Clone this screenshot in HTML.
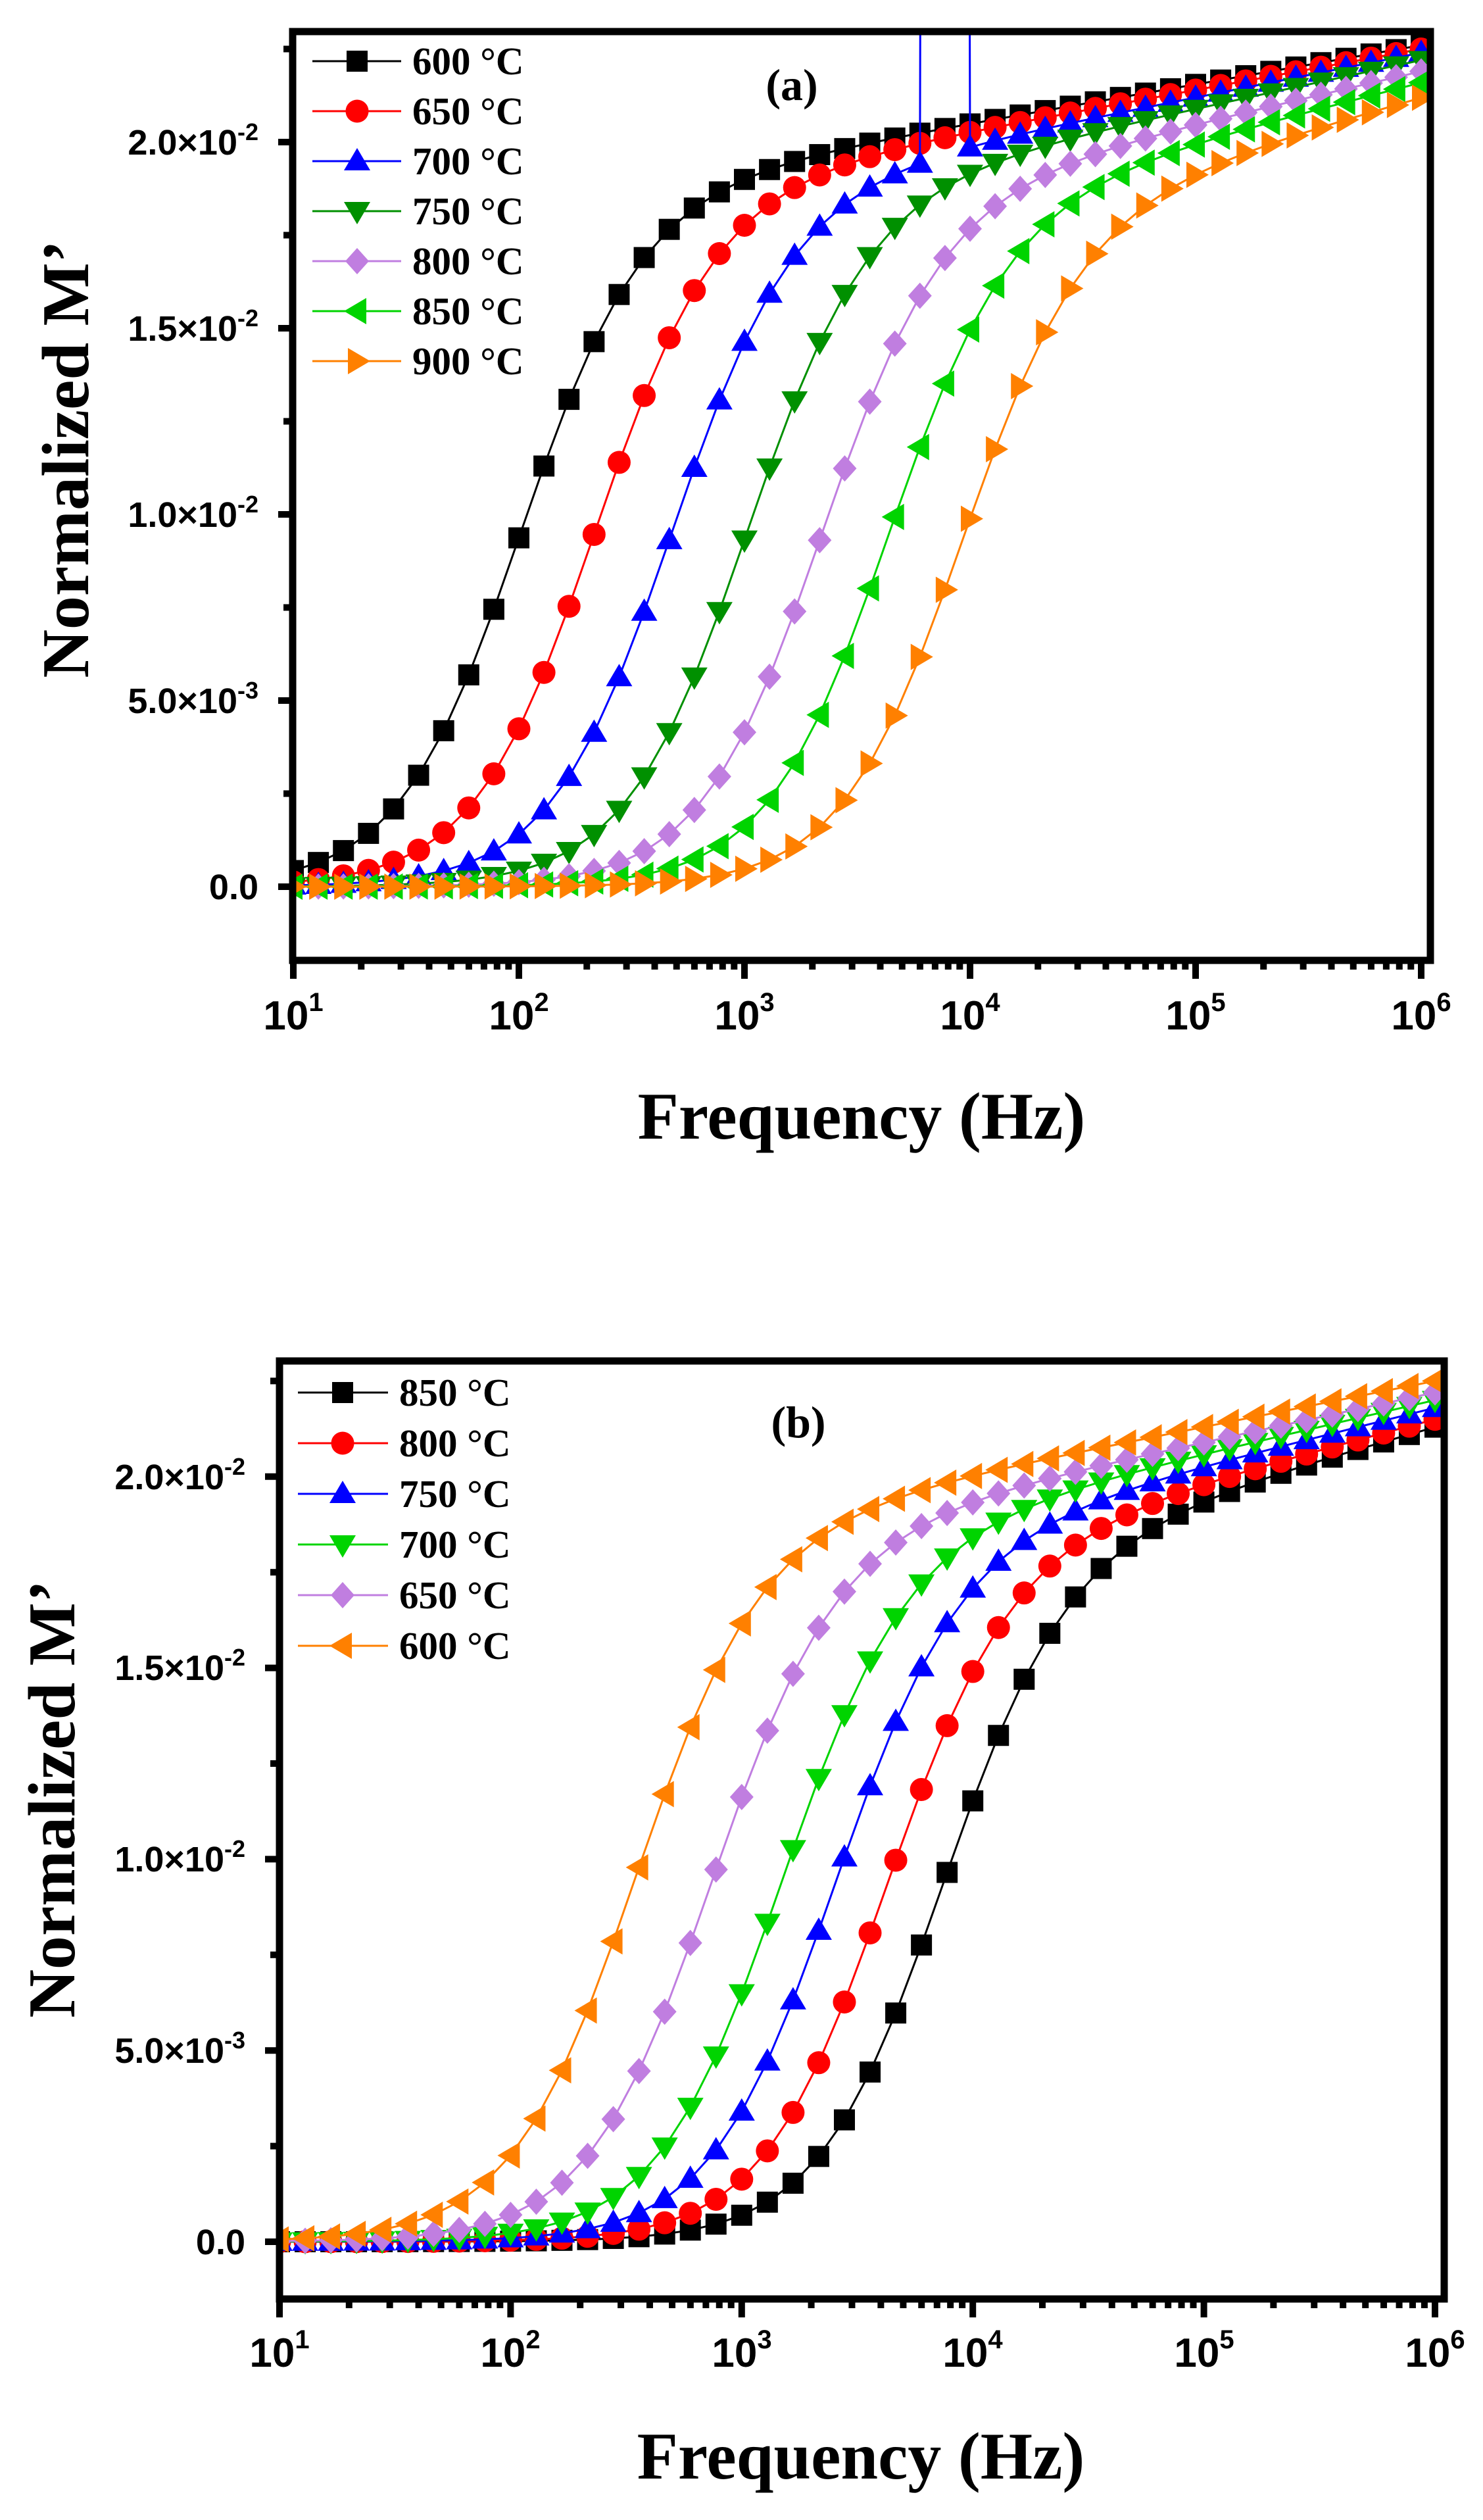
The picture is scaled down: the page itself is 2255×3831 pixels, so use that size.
<!DOCTYPE html>
<html><head><meta charset="utf-8">
<style>
html,body{margin:0;padding:0;background:#fff;}
svg{display:block;}
.tl{font-family:"Liberation Sans",Arial,sans-serif;font-weight:bold;fill:#000;}
.tm{font-family:"Liberation Serif","Times New Roman",serif;font-weight:bold;fill:#000;}
</style></head>
<body>
<svg id="s" width="2255" height="3831" viewBox="0 0 2255 3831" xmlns="http://www.w3.org/2000/svg">
<defs>
<clipPath id="ca"><rect x="445" y="48" width="1730" height="1412"/></clipPath>
<clipPath id="cb"><rect x="425" y="2069" width="1771" height="1426"/></clipPath>
</defs>
<g id="da" clip-path="url(#ca)"></g>
<g id="db" clip-path="url(#cb)"></g>
<g id="axes"></g>
<g class="tl" font-size="54" text-anchor="end">
<text x="393" y="1367">0.0</text>
<text x="393" y="1084">5.0×10<tspan font-size="36" dy="-22">-3</tspan></text>
<text x="393" y="801">1.0×10<tspan font-size="36" dy="-22">-2</tspan></text>
<text x="393" y="518">1.5×10<tspan font-size="36" dy="-22">-2</tspan></text>
<text x="393" y="235">2.0×10<tspan font-size="36" dy="-22">-2</tspan></text>
</g>
<g class="tl" font-size="62" text-anchor="middle">
<text x="446" y="1565">10<tspan font-size="40" dy="-28">1</tspan></text>
<text x="789" y="1565">10<tspan font-size="40" dy="-28">2</tspan></text>
<text x="1132" y="1565">10<tspan font-size="40" dy="-28">3</tspan></text>
<text x="1475" y="1565">10<tspan font-size="40" dy="-28">4</tspan></text>
<text x="1818" y="1565">10<tspan font-size="40" dy="-28">5</tspan></text>
<text x="2161" y="1565">10<tspan font-size="40" dy="-28">6</tspan></text>
</g>
<text class="tm" font-size="102" x="1310" y="1731" text-anchor="middle">Frequency (Hz)</text>
<text class="tm" font-size="102" text-anchor="middle" transform="translate(134,698) rotate(-90)">Normalized M’</text>
<text class="tm" font-size="68" x="1204" y="152" text-anchor="middle">(a)</text>
<g class="tm" font-size="59">
<text x="627" y="113">600 °C</text>
<text x="627" y="189">650 °C</text>
<text x="627" y="265">700 °C</text>
<text x="627" y="341">750 °C</text>
<text x="627" y="417">800 °C</text>
<text x="627" y="493">850 °C</text>
<text x="627" y="569">900 °C</text>
</g>
<g class="tl" font-size="54" text-anchor="end">
<text x="373" y="3427">0.0</text>
<text x="373" y="3136">5.0×10<tspan font-size="36" dy="-22">-3</tspan></text>
<text x="373" y="2845">1.0×10<tspan font-size="36" dy="-22">-2</tspan></text>
<text x="373" y="2554">1.5×10<tspan font-size="36" dy="-22">-2</tspan></text>
<text x="373" y="2264">2.0×10<tspan font-size="36" dy="-22">-2</tspan></text>
</g>
<g class="tl" font-size="62" text-anchor="middle">
<text x="425" y="3598">10<tspan font-size="40" dy="-28">1</tspan></text>
<text x="776" y="3598">10<tspan font-size="40" dy="-28">2</tspan></text>
<text x="1128" y="3598">10<tspan font-size="40" dy="-28">3</tspan></text>
<text x="1479" y="3598">10<tspan font-size="40" dy="-28">4</tspan></text>
<text x="1831" y="3598">10<tspan font-size="40" dy="-28">5</tspan></text>
<text x="2182" y="3598">10<tspan font-size="40" dy="-28">6</tspan></text>
</g>
<text class="tm" font-size="102" x="1309" y="3768" text-anchor="middle">Frequency (Hz)</text>
<text class="tm" font-size="102" text-anchor="middle" transform="translate(113,2735) rotate(-90)">Normalized M’</text>
<text class="tm" font-size="68" x="1214" y="2185" text-anchor="middle">(b)</text>
<g class="tm" font-size="59">
<text x="607" y="2137">850 °C</text>
<text x="607" y="2214">800 °C</text>
<text x="607" y="2291">750 °C</text>
<text x="607" y="2368">700 °C</text>
<text x="607" y="2445">650 °C</text>
<text x="607" y="2522">600 °C</text>
</g>
<g id="leg"></g>
</svg>
<script>
var NS="http://www.w3.org/2000/svg";
function el(p,t,a){var e=document.createElementNS(NS,t);for(var k in a)e.setAttribute(k,a[k]);p.appendChild(e);return e;}
function marker(g,type,x,y,c){
  var s;
  if(type=='sq'){el(g,'rect',{x:x-16,y:y-16,width:32,height:32,fill:c});return;}
  if(type=='ci'){el(g,'circle',{cx:x,cy:y,r:17.5,fill:c});return;}
  if(type=='tu')s=[[0,-20],[20,14],[-20,14]];
  if(type=='td')s=[[0,20],[20,-14],[-20,-14]];
  if(type=='tl')s=[[-20,0],[14,-20],[14,20]];
  if(type=='tr')s=[[20,0],[-14,-20],[-14,20]];
  if(type=='di')s=[[0,-20],[18,0],[0,20],[-18,0]];
  el(g,'polygon',{points:s.map(function(p){return (x+p[0])+','+(y+p[1]);}).join(' '),fill:c});
}
function sig(x,m,k){return 1/(1+Math.exp(-k*(x-m)));}
function draw(gid,ser,X,Y,spike){
  var g=document.getElementById(gid);
  ser.forEach(function(s){
    var pts=[];
    for(var k=0;k<=45;k++){
      var x=1+k/9;
      var v=(s.p6-s.s*(6-x))*sig(x,s.m,3.7);
      if(spike&&s.sp&&k==26)v=30;
      pts.push([X(x),Y(v),k]);
    }
    el(g,'polyline',{points:pts.map(function(p){return p[0].toFixed(1)+','+p[1].toFixed(1);}).join(' '),fill:'none',stroke:s.c,'stroke-width':3});
    pts.forEach(function(p){if(!(spike&&s.sp&&p[2]==26))marker(g,s.mk,p[0],p[1],s.c);});
  });
}
var VI='#c07ee0',GR='#00d400',DG='#009000',OR='#ff8000';
var A=[{c:'#000',mk:'sq',m:1.99,p6:2.26,s:0.105},{c:'#f00',mk:'ci',m:2.32,p6:2.25,s:0.11},{c:'#00f',mk:'tu',m:2.66,p6:2.24,s:0.12,sp:1},{c:DG,mk:'td',m:2.99,p6:2.22,s:0.13},{c:VI,mk:'di',m:3.32,p6:2.19,s:0.14},{c:GR,mk:'tl',m:3.61,p6:2.16,s:0.155},{c:OR,mk:'tr',m:3.94,p6:2.12,s:0.17}];
var B=[{c:'#000',mk:'sq',m:3.84,p6:2.13,s:0.17},{c:'#f00',mk:'ci',m:3.6,p6:2.15,s:0.16},{c:'#00f',mk:'tu',m:3.38,p6:2.18,s:0.15},{c:GR,mk:'td',m:3.15,p6:2.2,s:0.14},{c:VI,mk:'di',m:2.85,p6:2.22,s:0.13},{c:OR,mk:'tl',m:2.52,p6:2.25,s:0.12}];
draw('da',A,function(x){return 446+(x-1)*343;},function(v){return 1348-v/0.5*283;},true);
draw('db',B,function(x){return 425+(x-1)*351.4;},function(v){return 3408-v/0.5*290.8;},false);
var lg=document.getElementById('leg');
A.forEach(function(s,i){var y=93+i*76;el(lg,'line',{x1:475,y1:y,x2:610,y2:y,stroke:s.c,'stroke-width':3});marker(lg,s.mk,543,y,s.c);});
B.forEach(function(s,i){var y=2117+i*77;el(lg,'line',{x1:453,y1:y,x2:590,y2:y,stroke:s.c,'stroke-width':3});marker(lg,s.mk,521,y,s.c);});
var ax=document.getElementById('axes');
function axes(L,T,R,Bt,x1,dec,y0,per){
  el(ax,'rect',{x:L,y:T,width:R-L,height:Bt-T,fill:'none',stroke:'#000','stroke-width':11});
  for(var d=0;d<5;d++){for(var m=1;m<10;m++){var x=x1+(d+Math.log10(m))*dec;
    if(m==1)el(ax,'line',{x1:x,y1:Bt,x2:x,y2:Bt+28,stroke:'#000','stroke-width':10});
    else el(ax,'line',{x1:x,y1:Bt,x2:x,y2:Bt+14,stroke:'#000','stroke-width':10});}}
  var x6=x1+5*dec;el(ax,'line',{x1:x6,y1:Bt,x2:x6,y2:Bt+28,stroke:'#000','stroke-width':10});
  for(var j=0;j<=9;j++){var y=y0-j*per/2;if(y<T)break;
    if(j%2==0)el(ax,'line',{x1:L,y1:y,x2:L-22,y2:y,stroke:'#000','stroke-width':10});
    else el(ax,'line',{x1:L,y1:y,x2:L-14,y2:y,stroke:'#000','stroke-width':10});}
}
axes(445,48,2175,1460,446,343,1348,283);
axes(425,2069,2196,3495,425,351.4,3408,290.8);
</script>
</body></html>
